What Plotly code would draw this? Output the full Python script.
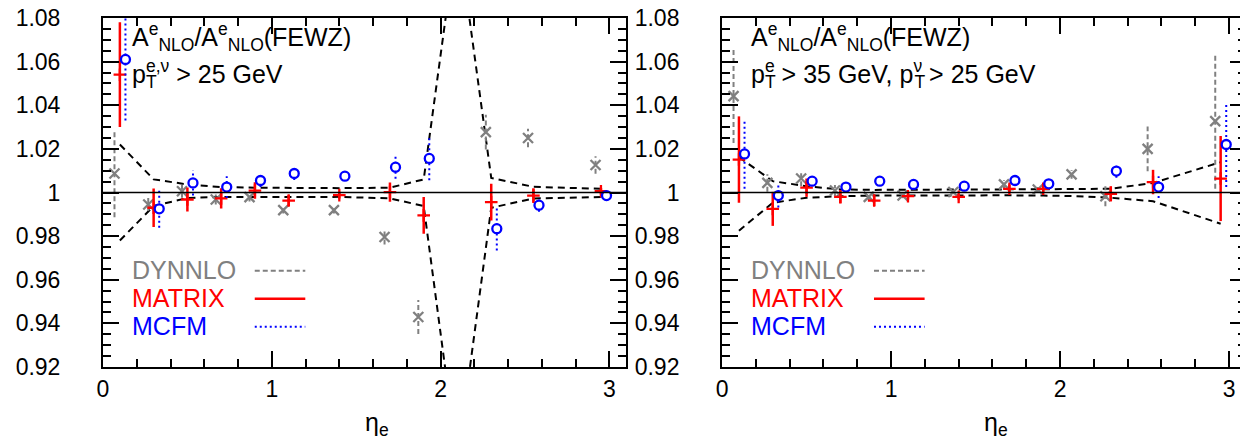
import plotly.graph_objects as go

# ---------------- data ----------------
ETA = [0.1, 0.3, 0.5, 0.7, 0.9, 1.1, 1.4, 1.7, 1.9, 2.1, 2.3, 2.55, 2.95]

# left panel: pT(e,nu) > 25 GeV
DYNNLO_25 = [1.0087, 0.9945, 1.0006, 0.9968, 0.9979, 0.9919, 0.9919, 0.9796, 0.9429, None, 1.0277, 1.0250, 1.0126]
DYNNLO_25_ERR = [0.020, 0.003, 0.003, 0.0023, 0.002, 0.0015, 0.0015, 0.0034, 0.0078, None, 0.008, 0.0042, 0.004]
MATRIX_25 = [1.054, 0.993, 0.9968, 0.9973, 1.0009, 0.9963, 0.9988, 1.0002, 0.9895, None, 0.9956, 0.9986, 1.0006]
MATRIX_25_ERR = [0.024, 0.0088, 0.0055, 0.0046, 0.0038, 0.0025, 0.0015, 0.0044, 0.0084, None, 0.0084, 0.0034, 0.0015]
MCFM_25 = [1.061, 0.9925, 1.0044, 1.0025, 1.0055, 1.0087, 1.0075, 1.0116, 1.0156, None, 0.9834, 0.9942, 0.9986]
MCFM_25_ERR = [0.028, 0.0087, 0.0058, 0.005, 0.003, 0.003, 0.002, 0.0053, 0.010, None, 0.010, 0.003, 0.002]
BAND_25_UP = [1.022, 1.006, 1.0037, 1.0025, 1.0022, 1.002, 1.002, 1.0022, 1.006, 1.12, 1.0067, 1.0026, 1.0017]
BAND_25_LO = [0.978, 0.9938, 0.9975, 0.998, 0.9979, 0.998, 0.998, 0.9973, 0.9938, 0.877, 0.993, 0.9973, 0.9979]

# right panel: pT(e) > 35 GeV, pT(nu) > 25 GeV
DYNNLO_35 = [1.0442, 1.0044, 1.0064, 1.0009, 0.998, 0.9986, 1.0002, 1.0037, 1.0014, 1.0083, 0.9983, 1.020, 1.0327]
DYNNLO_35_ERR = [0.0215, 0.004, 0.0035, 0.0025, 0.0015, 0.0012, 0.001, 0.002, 0.0012, 0.002, 0.0046, 0.0103, 0.031]
MATRIX_35 = [1.0151, 0.9925, 1.0022, 0.998, 0.9963, 0.9983, 0.998, 1.0017, 1.0017, None, 0.9994, 1.0048, 1.0064]
MATRIX_35_ERR = [0.0198, 0.0078, 0.0042, 0.003, 0.0025, 0.0015, 0.0012, 0.002, 0.002, None, 0.0035, 0.0056, 0.0195]
MCFM_35 = [1.0177, 0.9986, 1.0052, 1.0025, 1.0052, 1.0037, 1.0029, 1.0055, 1.004, None, 1.0098, 1.0025, 1.022]
MCFM_35_ERR = [0.016, 0.0055, 0.002, 0.0015, 0.001, 0.001, 0.001, 0.001, 0.001, None, 0.003, 0.005, 0.0195]
BAND_35_UP = [1.0162, 1.0052, 1.0029, 1.0014, 1.0012, 1.0012, 1.0012, 1.0013, 1.0015, 1.0016, 1.0017, 1.0044, 1.0139]
BAND_35_LO = [0.9825, 0.9953, 0.9976, 0.9983, 0.9986, 0.9987, 0.9987, 0.9987, 0.9986, 0.9983, 0.9976, 0.996, 0.9857]

Y_TICKS = [0.92, 0.94, 0.96, 0.98, 1.0, 1.02, 1.04, 1.06, 1.08]
Y_TICK_TEXT = ["0.92", "0.94", "0.96", "0.98", "1", "1.02", "1.04", "1.06", "1.08"]
X_TICKS = [0, 1, 2, 3]
X_TICK_TEXT = ["0", "1", "2", "3"]
SERIES_NAMES = ["DYNNLO", "MATRIX", "MCFM"]

TITLE_1 = "A<sup>e</sup><sub>NLO</sub>/A<sup>e</sup><sub>NLO</sub>(FEWZ)"
# ---------------- style ----------------
FONT = "Liberation Sans, Arial, Helvetica, sans-serif"
GRAY, RED, BLUE = "#808080", "#ff0000", "#0000ff"
OFFSETS = {"DYNNLO": -0.032, "MATRIX": 0.0, "MCFM": 0.033}
TRANSP = "<span style='color:rgba(0,0,0,0)'>"

fig = go.Figure()


def err_segments(vals, errs, dx):
    xs, ys = [], []
    for xi, yi, ei in zip(ETA, vals, errs):
        if yi is None:
            continue
        xs += [xi + dx, xi + dx, None]
        ys += [yi - ei, yi + ei, None]
    return xs, ys


def pts(vals, dx):
    xs, ys = [], []
    for xi, yi in zip(ETA, vals):
        if yi is None:
            continue
        xs.append(xi + dx)
        ys.append(yi)
    return xs, ys


def add_panel(xa, ya, dyn, dyn_e, mat, mat_e, mcf, mcf_e, up, lo):
    for band in (up, lo):
        fig.add_trace(go.Scatter(x=ETA, y=band, xaxis=xa, yaxis=ya, mode="lines",
                                 line=dict(color="black", width=2, dash="7px,5px"),
                                 showlegend=False, hoverinfo="skip"))
    spec = [
        ("DYNNLO", dyn, dyn_e, GRAY, "5px,3px", 2, "x-thin-open", 10, GRAY),
        ("MATRIX", mat, mat_e, RED, "solid", 2.5, "cross-thin-open", 9, RED),
        ("MCFM", mcf, mcf_e, BLUE, "2px,3px", 2, "circle", 9, "white"),
    ]
    for name, v, e, col, dash, lw, sym, ms, fill in spec:
        dx = OFFSETS[name]
        ex, ey = err_segments(v, e, dx)
        fig.add_trace(go.Scatter(x=ex, y=ey, xaxis=xa, yaxis=ya, mode="lines",
                                 line=dict(color=col, width=lw, dash=dash),
                                 showlegend=False, hoverinfo="skip"))
        px, py = pts(v, dx)
        fig.add_trace(go.Scatter(x=px, y=py, xaxis=xa, yaxis=ya, mode="markers",
                                 marker=dict(symbol=sym, size=ms, color=fill,
                                             line=dict(color=col, width=2.3)),
                                 name=name, showlegend=False))


add_panel("x", "y", DYNNLO_25, DYNNLO_25_ERR, MATRIX_25, MATRIX_25_ERR,
          MCFM_25, MCFM_25_ERR, BAND_25_UP, BAND_25_LO)
add_panel("x2", "y2", DYNNLO_35, DYNNLO_35_ERR, MATRIX_35, MATRIX_35_ERR,
          MCFM_35, MCFM_35_ERR, BAND_35_UP, BAND_35_LO)

axis_common = dict(showline=True, linewidth=2, linecolor="black", mirror="allticks",
                   ticks="inside", tickwidth=1.5, tickcolor="black", ticklen=16,
                   showgrid=False, zeroline=False, automargin=False,
                   ticklabeloverflow="allow",
                   tickfont=dict(family=FONT, size=23, color="black"))

xcommon = dict(axis_common, range=[0, 3.1], tickvals=X_TICKS, ticktext=X_TICK_TEXT,
               ticklabelstandoff=0,
               minor=dict(ticks="inside", ticklen=8, dtick=0.2, tick0=0,
                          tickwidth=1.5, tickcolor="black"))
ycommon = dict(axis_common, range=[0.92, 1.08], tickvals=Y_TICKS, ticktext=Y_TICK_TEXT,
               ticklabelstandoff=36,
               minor=dict(ticks="inside", ticklen=8, dtick=0.005, tick0=0.92,
                          tickwidth=1.5, tickcolor="black"))

fig.update_layout(
    width=1248, height=445,
    margin=dict(l=95, r=10, t=10, b=86),
    paper_bgcolor="white", plot_bgcolor="white",
    font=dict(family=FONT, color="black"),
    xaxis=dict(xcommon, domain=[0, 0.4578], anchor="y"),
    yaxis=dict(ycommon, domain=[0, 1], anchor="x"),
    xaxis2=dict(xcommon, domain=[0.5416, 1], anchor="y2"),
    yaxis2=dict(ycommon, domain=[0, 1], anchor="x2"),
)

annotations = []
shapes = []
for xd, yd, line2, tline in [
    ("x domain", "y domain", "p<sup>e,ν</sup> > 25 GeV",
     TRANSP + "p</span><sub>T</sub>" + TRANSP + "<sup>e,ν</sup></span>"),
    ("x2 domain", "y2 domain", "p<sup>e</sup> > 35 GeV, p<sup>ν</sup> > 25 GeV",
     TRANSP + "p</span><sub>T</sub>" + TRANSP + " > 35 GeV, p</span><sub>T</sub>"
     + TRANSP + "<sup>ν</sup></span>"),
]:
    yref_data = "y" if xd == "x domain" else "y2"
    annotations.append(dict(xref=xd, yref=yd, x=0.051, y=1.003, xanchor="left", yanchor="top",
                            text=TITLE_1, showarrow=False, font=dict(size=25, family=FONT)))
    for t in (line2, tline):
        annotations.append(dict(xref=xd, yref=yd, x=0.051, y=0.896, xanchor="left",
                                yanchor="top", text=t, showarrow=False,
                                font=dict(size=25, family=FONT)))
    # legend
    for name, col, yy, dash in [("DYNNLO", GRAY, 0.279, "5px,3px"),
                                ("MATRIX", RED, 0.1986, "solid"),
                                ("MCFM", BLUE, 0.1185, "2px,3px")]:
        annotations.append(dict(xref=xd, yref=yd, x=0.052, y=yy, xanchor="left",
                                yanchor="middle", text=name, showarrow=False,
                                font=dict(size=25, family=FONT, color=col)))
        shapes.append(dict(type="line", xref=xd, yref=yd, x0=0.290, x1=0.3866,
                           y0=yy - 0.003, y1=yy - 0.003,
                           line=dict(color=col, width=2 if dash != "solid" else 2.5, dash=dash)))
    # horizontal line at 1
    shapes.append(dict(type="line", xref=xd, yref=yref_data, x0=0, x1=1, y0=1, y1=1,
                       line=dict(color="black", width=1.5)))
    # axis title
    annotations.append(dict(xref=xd, yref=yd, x=0.5227, y=-0.162, xanchor="center",
                            yanchor="middle", text="η<sub>e</sub>", showarrow=False,
                            font=dict(size=25, family=FONT)))

fig.update_layout(annotations=annotations, shapes=shapes)
fig.write_html("out.html")
